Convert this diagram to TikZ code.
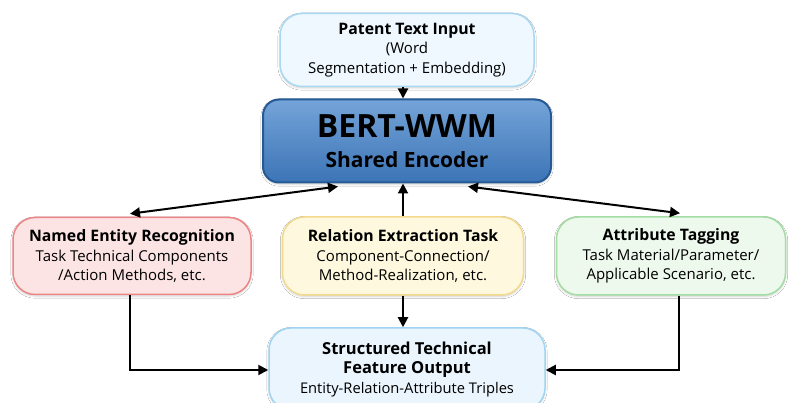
\documentclass[tikz,border=0pt]{standalone}
\usepackage{fontspec}
\setmainfont{Open Sans}
\usetikzlibrary{arrows.meta,shadows.blur}
\definecolor{topfill}{HTML}{EEF8FE}
\definecolor{topdraw}{HTML}{A9D9F2}
\definecolor{berttop}{HTML}{74A4D8}
\definecolor{bertbot}{HTML}{3C74B6}
\definecolor{bertdraw}{HTML}{265A94}
\definecolor{nerfill}{HTML}{FDE4E4}
\definecolor{nerdraw}{HTML}{EE8585}
\definecolor{refill}{HTML}{FEF9DE}
\definecolor{redraw}{HTML}{F2D98C}
\definecolor{atfill}{HTML}{EEF9ED}
\definecolor{atdraw}{HTML}{A3DDA3}
\definecolor{outfill}{HTML}{EAF5FD}
\definecolor{outdraw}{HTML}{9FD4F2}
\tikzset{
  box/.style={rectangle, rounded corners=22pt, line width=1.5pt, align=center,
    inner sep=2pt, blur shadow={shadow blur steps=6, shadow xshift=0pt, shadow yshift=-1.5pt, shadow opacity=18}},
  txt/.style={font=\fontsize{15}{19.5}\selectfont},
  arr/.style={line width=2pt, -{Triangle[length=10pt,width=10pt]}},
  darr/.style={line width=2pt, {Triangle[length=10pt,width=10pt]}-{Triangle[length=10pt,width=10pt]}}
}
\newcommand{\ttl}[1]{{\fontsize{15.8}{19.5}\selectfont\bfseries #1}}
\begin{document}
\begin{tikzpicture}[x=1pt,y=-1pt]
\useasboundingbox[fill=white] (0,0) rectangle (788,403);

\node[box, txt, fill=topfill, draw=topdraw, minimum width=254pt, minimum height=73pt] (in) at (407,50)
  {\ttl{Patent Text Input}\\(Word\\Segmentation + Embedding)};

\node[box, rounded corners=16pt, draw=bertdraw, top color=berttop, bottom color=bertbot,
  minimum width=288pt, minimum height=83pt, line width=2pt, font=\fontsize{32}{30}\selectfont] (bert) at (407,141)
  {\textbf{BERT-WWM}\\{\fontsize{21}{24}\selectfont\bfseries Shared Encoder}};

\node[box, txt, fill=nerfill, draw=nerdraw, minimum width=238pt, minimum height=77pt] (ner) at (132,256)
  {\ttl{Named Entity Recognition}\\Task Technical Components\\/Action Methods, etc.};

\node[box, txt, fill=refill, draw=redraw, minimum width=241pt, minimum height=78pt] (re) at (403,256)
  {\ttl{Relation Extraction Task}\\Component-Connection/\\Method-Realization, etc.};

\node[box, txt, fill=atfill, draw=atdraw, minimum width=229pt, minimum height=78pt] (at) at (671,256)
  {\ttl{Attribute Tagging}\\Task Material/Parameter/\\Applicable Scenario, etc.};

\node[box, fill=outfill, draw=outdraw, minimum width=276pt, minimum height=82pt,
  font=\fontsize{16.5}{19.5}\selectfont] (out) at (407,369)
  {\textbf{Structured Technical}\\\textbf{Feature Output}\\{\fontsize{14.7}{17}\selectfont Entity-Relation-Attribute Triples}};

\draw[arr] ([xshift=-4pt]in.south) -- ([xshift=-4pt]bert.north);
\draw[darr] ([xshift=76pt,yshift=-3pt]bert.south west) -- ([xshift=-2pt,yshift=3pt]ner.north);
\draw[darr] ([xshift=-84pt,yshift=-3pt]bert.south east) -- ([xshift=9pt,yshift=3pt]at.north);
\draw[arr] (re.north) -- ([xshift=-4pt]bert.south);
\draw[arr] (re.south) -- ([xshift=-4pt]out.north);
\draw[arr] ([xshift=-2pt]ner.south) |- ([yshift=-1pt]out.west);
\draw[arr] ([xshift=8pt]at.south) |- ([yshift=-1pt]out.east);
\end{tikzpicture}
\end{document}
